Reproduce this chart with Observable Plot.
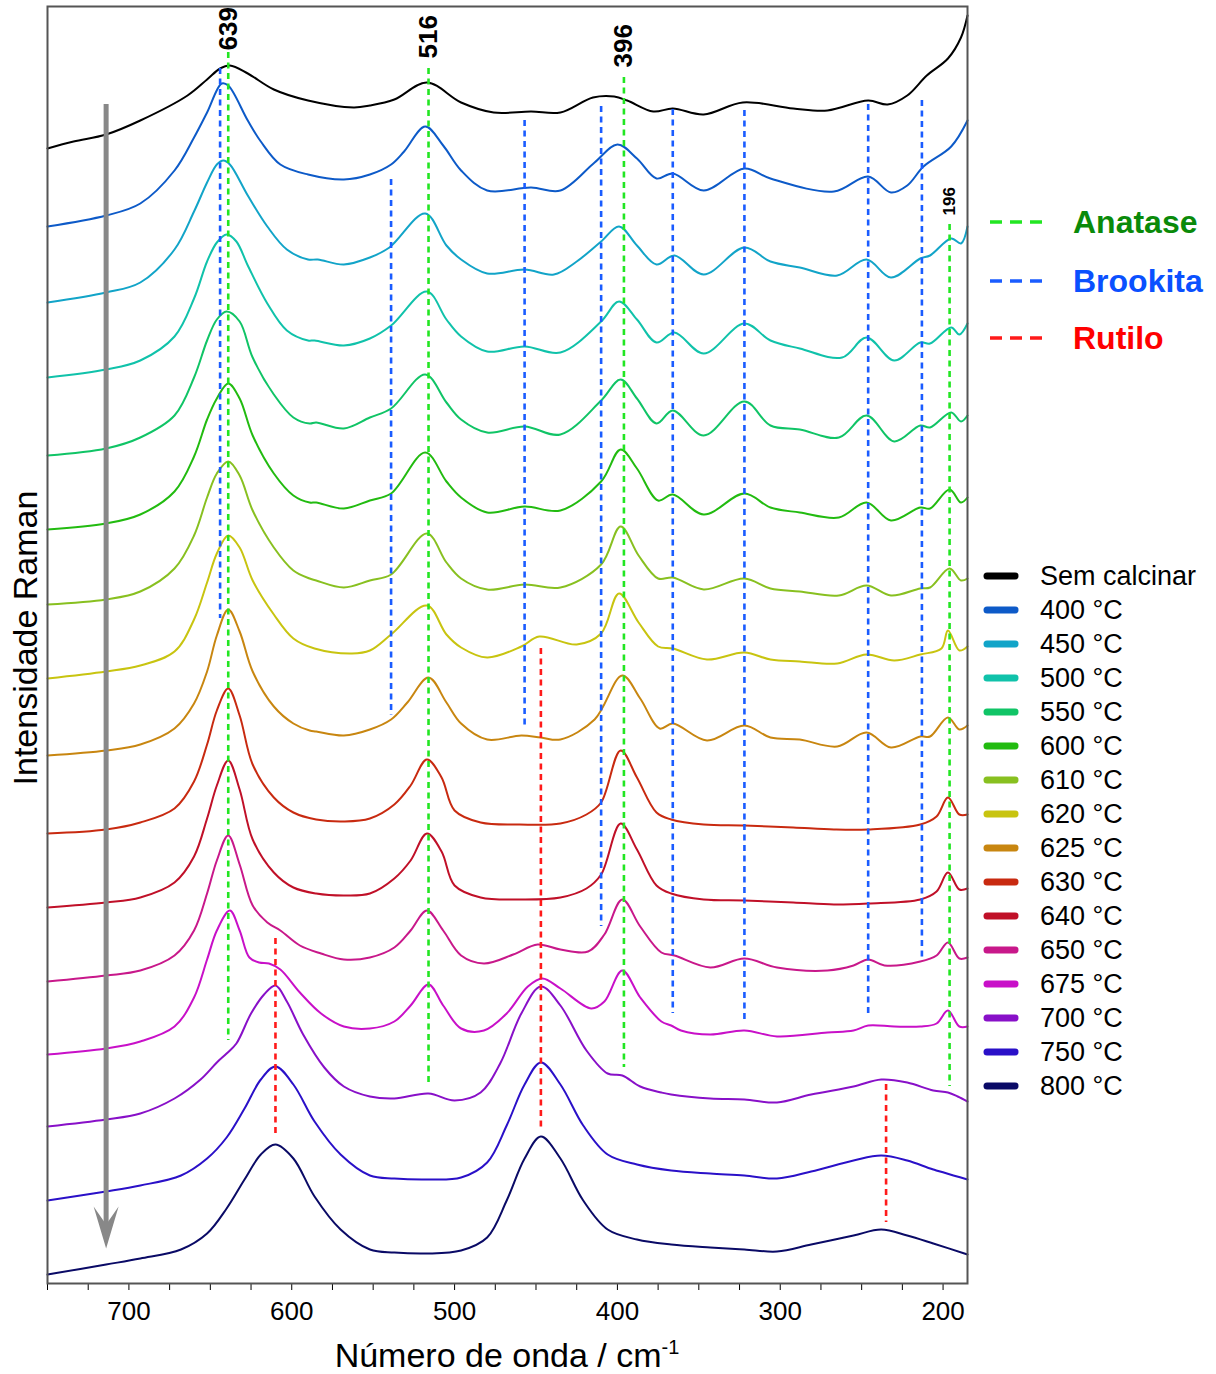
<!DOCTYPE html>
<html><head><meta charset="utf-8">
<script src="https://cdn.jsdelivr.net/npm/d3@7"></script>
<script src="https://cdn.jsdelivr.net/npm/@observablehq/plot@0.6"></script>
<style>
body{margin:0;background:#fff;font-family:"Liberation Sans",Arial,sans-serif;}
#wrap{position:relative;width:1216px;height:1374px;overflow:hidden;}
#wrap svg{position:absolute;left:0;top:0;}
.lbl{position:absolute;white-space:nowrap;line-height:1;transform:translateY(-50%);color:#000;}
.ytitle{position:absolute;left:25px;top:638px;font-size:34px;white-space:nowrap;transform:translate(-50%,-50%) rotate(-90deg);}
.xtitle{position:absolute;left:507px;top:1355px;font-size:34px;white-space:nowrap;transform:translate(-50%,-50%);}
.xtitle sup{font-size:20px;}
</style></head><body><div id="wrap"></div>
<script>
// ---- series (legend order) ----
const seriesNames = ["Sem calcinar","400 °C","450 °C","500 °C","550 °C","600 °C","610 °C","620 °C","625 °C","630 °C","640 °C","650 °C","675 °C","700 °C","750 °C","800 °C"];
const seriesColors = ["#000000","#0d5ac8","#12a4c8","#10c2aa","#10c466","#22bb10","#88c020","#c8c410","#c88610","#c82a10","#c01028","#c8188a","#c810c8","#8810c8","#2a10c8","#0a0a66"];

// ---- spectra: [wavenumber (cm-1), stacked intensity (a.u.)] ----
const sem = [[750,1135],[734,1142],[714,1149],[693,1163],[664,1188],[652,1204],[644,1215],[638,1218],[627,1210],[611,1194],[590,1183],[562,1176],[552,1178],[537,1184],[517,1201],[496,1181],[476,1171],[453,1172],[435,1171],[415,1186],[402,1187],[394,1183],[378,1172],[366,1175],[347,1169],[323,1181],[292,1175],[271,1173],[246,1183],[234,1179],[222,1188],[210,1208],[197,1225],[189,1246],[185,1268]];
const t400 = [[750,1057],[714,1068],[693,1080],[672,1113],[660,1146],[652,1171],[643,1200],[639,1198],[627,1163],[619,1142],[607,1119],[590,1109],[568,1104],[552,1109],[539,1119],[531,1132],[518,1157],[507,1138],[496,1113],[480,1093],[453,1096],[435,1093],[414,1121],[400,1139],[388,1125],[376,1105],[366,1110],[347,1093],[322,1115],[306,1105],[267,1092],[246,1107],[232,1091],[222,1098],[212,1117],[195,1137],[185,1163]];
const t450 = [[750,981],[714,991],[693,1001],[672,1034],[660,1072],[652,1101],[646,1119],[642,1123],[638,1119],[627,1088],[615,1057],[603,1034],[590,1024],[584,1024],[568,1019],[552,1026],[540,1036],[518,1070],[505,1038],[496,1024],[480,1010],[457,1014],[439,1009],[425,1022],[410,1042],[399,1057],[388,1038],[376,1019],[365,1028],[347,1009],[322,1036],[306,1022],[288,1016],[265,1008],[247,1024],[232,1006],[214,1025],[208,1028],[195,1045],[189,1040],[185,1057]];
const t500 = [[750,906],[714,914],[693,923],[672,947],[660,985],[652,1022],[646,1041],[640,1049],[634,1042],[627,1018],[615,980],[603,953],[590,943],[586,943],[568,938],[552,945],[539,958],[517,992],[505,964],[496,947],[480,932],[457,937],[435,931],[410,962],[399,982],[388,964],[376,941],[365,951],[347,930],[322,960],[306,943],[288,935],[262,926],[247,946],[230,923],[214,941],[208,940],[195,956],[190,949],[185,960]];
const t550 = [[750,828],[714,835],[693,846],[672,868],[660,906],[652,943],[646,964],[640,972],[632,962],[624,926],[611,889],[599,866],[589,860],[585,861],[568,855],[552,866],[539,875],[518,909],[505,881],[496,864],[480,851],[457,857],[435,849],[410,883],[398,904],[388,885],[376,860],[366,873],[347,848],[322,882],[306,858],[288,854],[264,846],[247,868],[230,842],[214,858],[208,856],[195,871],[189,862],[185,868]];
const t600 = [[750,754],[714,760],[693,769],[672,792],[660,827],[652,864],[646,885],[639,900],[632,885],[624,848],[611,810],[599,788],[589,781],[585,781],[568,775],[552,783],[539,790],[518,831],[505,802],[496,786],[480,771],[457,777],[435,773],[410,802],[398,834],[388,815],[375,783],[366,789],[347,769],[322,790],[306,776],[288,771],[264,766],[247,781],[232,763],[214,776],[208,775],[196,794],[189,781],[185,786]];
const t610 = [[750,679],[714,684],[693,692],[672,715],[660,748],[652,786],[646,810],[639,822],[632,808],[624,773],[611,736],[599,713],[589,705],[585,703],[568,696],[552,703],[539,709],[517,750],[505,721],[496,705],[480,694],[457,699],[435,696],[410,719],[398,757],[387,728],[375,705],[366,706],[347,694],[322,705],[306,695],[288,692],[264,688],[247,698],[232,688],[214,695],[208,696],[196,715],[189,703],[185,705]];
const t620 = [[750,605],[714,612],[693,618],[672,632],[660,664],[652,701],[646,730],[639,748],[632,736],[624,703],[611,669],[599,645],[586,635],[563,630],[552,633],[539,649],[517,678],[505,649],[496,636],[480,626],[459,637],[448,647],[425,639],[410,650],[399,690],[387,661],[375,637],[366,635],[345,624],[322,631],[306,624],[288,622],[265,620],[247,629],[230,623],[214,629],[201,635],[197,653],[190,633],[185,637]];
const t625 = [[750,528],[714,533],[693,539],[672,555],[660,580],[652,612],[646,648],[639,674],[632,652],[624,612],[611,577],[599,560],[589,553],[585,552],[568,548],[552,554],[539,564],[529,581],[516,606],[505,581],[496,560],[480,544],[459,548],[447,546],[435,544],[414,564],[397,608],[386,585],[374,555],[366,560],[345,543],[322,558],[306,546],[288,544],[265,537],[247,551],[232,536],[214,547],[208,547],[197,566],[190,554],[185,558]];
const t630 = [[750,450],[714,454],[693,461],[672,475],[660,502],[652,539],[646,573],[639,595],[632,568],[624,519],[611,486],[599,471],[585,464],[568,462],[552,465],[537,479],[527,498],[517,524],[508,506],[500,473],[484,461],[460,459],[435,460],[419,469],[410,481],[398,533],[388,506],[376,471],[367,464],[347,459],[322,458],[292,456],[267,454],[246,454],[214,459],[204,467],[197,486],[190,469],[185,469]];
const t640 = [[750,376],[714,381],[693,386],[672,401],[660,427],[652,465],[646,498],[639,523],[632,494],[624,444],[611,411],[599,396],[585,390],[568,388],[552,390],[537,405],[527,423],[517,450],[508,432],[500,398],[484,386],[460,384],[435,386],[419,395],[410,409],[398,460],[388,434],[376,398],[367,390],[347,384],[322,383],[292,381],[267,379],[246,380],[214,384],[204,392],[197,411],[190,394],[185,395]];
const t650 = [[750,302],[714,308],[693,313],[672,328],[660,353],[652,390],[646,423],[639,448],[632,419],[624,378],[615,361],[607,353],[595,338],[582,330],[568,324],[552,326],[537,336],[527,353],[517,373],[507,353],[496,328],[482,320],[464,329],[449,339],[435,334],[418,332],[408,349],[397,384],[386,357],[373,331],[365,328],[343,316],[322,325],[302,316],[271,313],[255,318],[246,324],[236,318],[214,322],[204,328],[197,341],[190,325],[185,326]];
const t675 = [[750,229],[714,235],[693,242],[672,257],[660,286],[652,324],[646,353],[638,373],[632,353],[626,326],[620,321],[614,320],[607,314],[595,291],[582,270],[568,257],[552,255],[537,262],[527,278],[516,299],[507,278],[496,255],[482,253],[468,270],[455,297],[446,305],[435,295],[416,275],[408,282],[397,313],[386,286],[373,262],[367,258],[361,253],[343,249],[322,253],[302,247],[271,251],[255,253],[246,258],[230,257],[214,257],[204,260],[197,273],[190,257],[185,257]];
const t700 = [[750,157],[714,164],[693,170],[672,185],[656,204],[646,221],[640,230],[634,240],[625,270],[617,289],[610,298],[603,282],[593,249],[580,216],[568,197],[552,187],[537,185],[516,190],[500,183],[484,191],[472,220],[459,270],[447,297],[435,278],[419,233],[406,210],[397,208],[386,197],[373,191],[367,189],[343,185],[322,184],[302,181],[281,189],[255,197],[238,204],[222,201],[206,193],[197,191],[191,187],[185,182]];
const t750 = [[750,83],[714,92],[693,98],[668,108],[652,125],[640,146],[629,175],[619,204],[610,217],[599,199],[586,162],[570,129],[552,108],[537,105],[517,104],[496,106],[480,121],[468,158],[457,199],[447,221],[435,199],[421,158],[406,129],[388,119],[367,113],[343,110],[322,108],[302,105],[281,112],[255,123],[238,128],[222,123],[206,114],[185,104]];
const t800 = [[750,9],[714,19],[693,25],[668,34],[652,50],[640,75],[629,104],[619,129],[610,139],[599,125],[586,87],[570,54],[552,34],[537,31],[517,30],[496,33],[480,46],[468,83],[457,125],[447,147],[435,125],[421,83],[406,54],[388,44],[367,39],[343,36],[322,34],[302,32],[281,39],[255,48],[238,54],[222,48],[206,40],[185,29]];
const seriesData = [sem,t400,t450,t500,t550,t600,t610,t620,t625,t630,t640,t650,t675,t700,t750,t800];

// ---- phase reference bands: [wavenumber, top, bottom] ----
const anataseBands = [[639,1231,243],[516,1215,199],[396,1206,216],[196,1059,197]];
const brookitaBands = [[644,1215,665],[539,1104,568],[457,1163,557],[410,1177,357],[366,1174,270],[322,1173,262],[246,1179,266],[213,1183,326]];
const rutiloBands = [[610,345,148],[447,635,152],[235,199,61]];
const phaseNames = ["Anatase","Brookita","Rutilo"];
const phaseLineColors = ["#22e622","#1a5cff","#ff1a1a"];
const phaseTextColors = ["#0a8a0a","#0a50ff","#ff0000"];

// ---- peak labels: [wavenumber, base, text] ----
const peakLabels = [[639,1233,"639"],[516,1225,"516"],[396,1216,"396"]];
const smallPeakLabels = [[196,1068,"196"]];

// ---- calcination arrow: [wavenumber, start, end] ----
const arrowShaft = [[714,1179,58]];
const arrowHead = [[714,56]];

const xTicks = d3.range(200, 751, 25);

const stealth = {draw(ctx, size) {
  ctx.moveTo(0, 21); ctx.lineTo(-12.5, -21); ctx.lineTo(0, -3); ctx.lineTo(12.5, -21); ctx.closePath();
}};

const dashed = {strokeDasharray: "6,4.5", strokeWidth: 2.6};
const marks = [];
seriesData.forEach((pts, i) => {
  marks.push(Plot.line(pts, {x: d => d[0], y: d => d[1], stroke: seriesColors[i], strokeWidth: 2, curve: "catmull-rom"}));
});
[anataseBands, brookitaBands, rutiloBands].forEach((b, i) => {
  marks.push(Plot.ruleX(b, {x: d => d[0], y1: d => d[1], y2: d => d[2], stroke: phaseLineColors[i], ...dashed}));
});
marks.push(Plot.ruleX(arrowShaft, {x: d => d[0], y1: d => d[1], y2: d => d[2], stroke: "#888", strokeWidth: 5}));
marks.push(Plot.dot(arrowHead, {x: d => d[0], y: d => d[1], symbol: stealth, r: 10, fill: "#888", stroke: "none"}));
marks.push(Plot.text(peakLabels, {x: d => d[0], y: d => d[1], text: d => d[2], rotate: -90, textAnchor: "start", fontWeight: "bold", fontSize: 26, fill: "#000"}));
marks.push(Plot.text(smallPeakLabels, {x: d => d[0], y: d => d[1], text: d => d[2], rotate: -90, textAnchor: "start", fontWeight: "bold", fontSize: 17, fill: "#000"}));
marks.push(Plot.frame({stroke: "#555", strokeWidth: 2}));

const chart = Plot.plot({
  width: 1216, height: 1374,
  marginLeft: 47, marginRight: 249, marginTop: 6, marginBottom: 91,
  style: {fontFamily: "'Liberation Sans', Arial, sans-serif", fontSize: "26px", color: "#000", background: "transparent", overflow: "visible"},
  x: {domain: [750, 185], ticks: xTicks, tickFormat: d => d % 100 === 0 ? String(d) : "", tickSize: 7, tickPadding: 11, label: null},
  y: {domain: [0, 1277], axis: null},
  marks
});
const wrap = document.getElementById("wrap");
wrap.appendChild(chart);

// axis titles
const yt = document.createElement("div"); yt.className = "ytitle"; yt.textContent = "Intensidade Raman"; wrap.appendChild(yt);
const xt = document.createElement("div"); xt.className = "xtitle"; xt.innerHTML = "Número de onda / cm<sup>-1</sup>"; wrap.appendChild(xt);

// phase legend
const phaseRowY = [222, 281, 338];
phaseNames.forEach((n, i) => {
  const sw = document.createElementNS("http://www.w3.org/2000/svg", "svg");
  sw.setAttribute("width", 56); sw.setAttribute("height", 10);
  sw.style.position = "absolute"; sw.style.left = "989px"; sw.style.top = (phaseRowY[i] - 5) + "px";
  sw.innerHTML = `<line x1="1" y1="5" x2="54" y2="5" stroke="${phaseLineColors[i]}" stroke-width="3.6" stroke-dasharray="12,8"/>`;
  wrap.appendChild(sw);
  const t = document.createElement("div"); t.className = "lbl";
  t.style.left = "1073px"; t.style.top = phaseRowY[i] + "px";
  t.style.fontSize = "32px"; t.style.fontWeight = "bold"; t.style.color = phaseTextColors[i];
  t.textContent = n; wrap.appendChild(t);
});

// series legend
seriesNames.forEach((n, i) => {
  const y = 576 + i * 34;
  const sw = document.createElementNS("http://www.w3.org/2000/svg", "svg");
  sw.setAttribute("width", 40); sw.setAttribute("height", 12);
  sw.style.position = "absolute"; sw.style.left = "981px"; sw.style.top = (y - 6) + "px";
  sw.innerHTML = `<line x1="6" y1="6" x2="34" y2="6" stroke="${seriesColors[i]}" stroke-width="7" stroke-linecap="round"/>`;
  wrap.appendChild(sw);
  const t = document.createElement("div"); t.className = "lbl";
  t.style.left = "1040px"; t.style.top = y + "px"; t.style.fontSize = "27px";
  t.textContent = n; wrap.appendChild(t);
});
</script></body></html>
